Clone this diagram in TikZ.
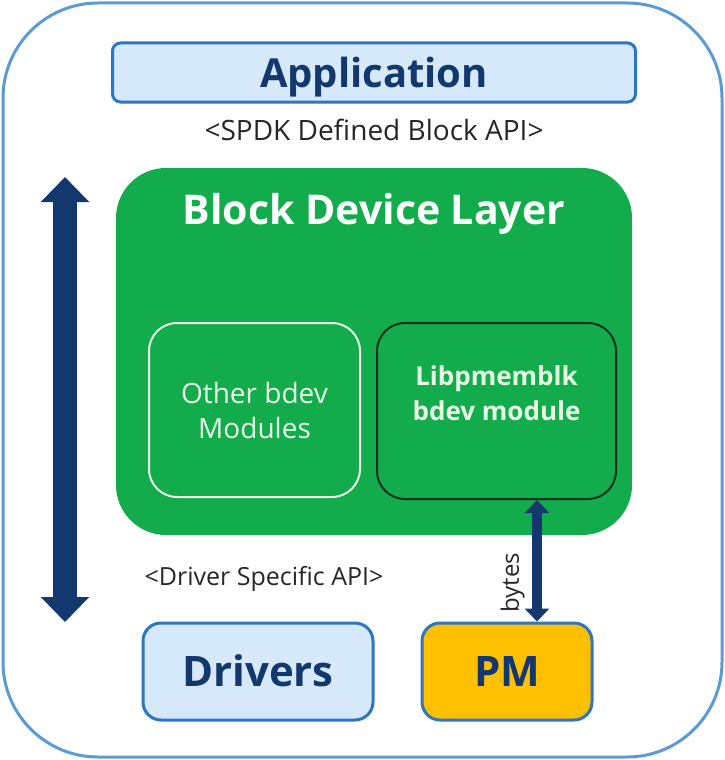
\documentclass[tikz,border=0pt]{standalone}
\usepackage{fontspec}
\setmainfont{Open Sans}
\usetikzlibrary{arrows.meta, calc}
\definecolor{frameblue}{RGB}{91,155,213}
\definecolor{boxblue}{RGB}{46,117,196}
\definecolor{lightblue}{RGB}{214,233,250}
\definecolor{navy}{RGB}{18,56,110}
\definecolor{bdevgreen}{RGB}{18,172,76}
\definecolor{pmyellow}{RGB}{255,192,0}
\definecolor{darkline}{RGB}{22,48,30}
\definecolor{paletext}{RGB}{232,250,228}
\tikzstyle{app} = [rectangle, rounded corners=8pt, minimum width=523pt, minimum height=59pt, text centered, text height=29pt, text depth=0pt, draw=boxblue, line width=3pt, fill=lightblue, text=navy, font=\fontsize{40}{44}\selectfont\bfseries]
\tikzstyle{apitext} = [text centered, text=black!85, font=\fontsize{28}{32}\selectfont]
\tikzstyle{layer} = [rectangle, rounded corners=50pt, minimum width=516pt, minimum height=367pt, fill=bdevgreen]
\tikzstyle{othermod} = [rectangle, rounded corners=28pt, minimum width=211pt, minimum height=174pt, align=center, draw=paletext, line width=2pt, text=paletext, font=\fontsize{28}{35}\selectfont]
\tikzstyle{pmemmod} = [rectangle, rounded corners=28pt, minimum width=239pt, minimum height=176pt, draw=darkline, line width=2pt, fill=bdevgreen]
\tikzstyle{device} = [rectangle, rounded corners=18pt, minimum width=230pt, minimum height=97pt, text centered, text height=30pt, text depth=0pt, draw=boxblue, line width=3pt, fill=lightblue, text=navy, font=\fontsize{42}{44}\selectfont\bfseries]
\tikzstyle{pmdev} = [device, minimum width=170pt, fill=pmyellow]
\tikzstyle{bigarrow} = [{Triangle[width=47pt,length=25pt]}-{Triangle[width=47pt,length=25pt]}, line width=24pt, draw=navy]
\tikzstyle{bytearrow} = [{Triangle[width=24pt,length=13pt]}-{Triangle[width=24pt,length=13pt]}, line width=10pt, draw=navy]
\begin{document}
\begin{tikzpicture}[x=1pt, y=-1pt, node distance=100pt]
	\useasboundingbox (0,0) rectangle (725,760);
	\draw [frameblue, line width=3pt, rounded corners=95pt] (3,3) rectangle (722,757);
	\node (APP) [app] at (374,72.5) {Application};
	\node (SBA) [apitext, below of=APP, yshift=42.5pt] {<SPDK Defined Block API>};
	\node (BDL) [layer, below of=APP, yshift=-179pt, label={[anchor=base, yshift=-57pt, text=white, font=\fontsize{41}{44}\selectfont\bfseries]north:Block Device Layer}] {};
	\node (OTH) [othermod, left of=BDL, xshift=-19.5pt, yshift=-58.5pt] {Other bdev\\Modules};
	\node (LP) [pmemmod, right of=OTH, xshift=142pt, yshift=-1pt, label={[yshift=18pt, align=center, text=paletext, font=\fontsize{26}{35}\selectfont\bfseries]center:Libpmemblk\\bdev module}] {};
	\node (DRV) [device, below of=OTH, xshift=3.5pt, yshift=-161.5pt] {Drivers};
	\node (PM) [pmdev, right of=DRV, xshift=149pt] {PM};
	\node (DSA) [apitext, above of=DRV, xshift=6pt, yshift=-7pt, font=\fontsize{25}{28}\selectfont] {<Driver Specific API>};
	\coordinate (UP) at (65,177);
	\coordinate (DN) at (65,622);
	\draw [bigarrow] (UP) -- (DN);
	\draw [bytearrow] ($(PM.north)+(30,0)$) coordinate (BT) -- (BT |- LP.south) node [pos=0.32, sloped, above=4pt, font=\fontsize{24}{26}\selectfont, text=black!85] {bytes};
\end{tikzpicture}
\end{document}
